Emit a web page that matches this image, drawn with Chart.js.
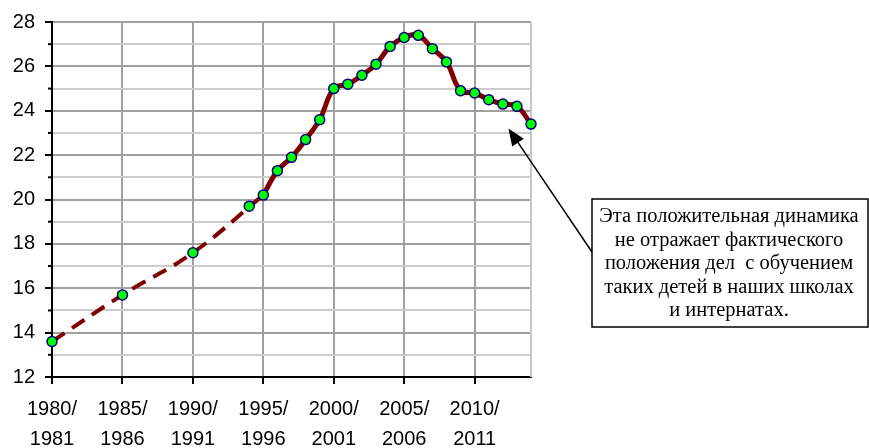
<!DOCTYPE html>
<html>
<head>
<meta charset="utf-8">
<script src="https://cdn.jsdelivr.net/npm/chart.js@4.4.1/dist/chart.umd.min.js"></script>
<style>
  html, body { margin: 0; padding: 0; background: #fff; }
</style>
</head>
<body>
<canvas id="chart" width="869" height="448"></canvas>
<script>
// school years (first year of the pair) and values
const years = [1980, 1985, 1990, 1994, 1995, 1996, 1997, 1998, 1999, 2000, 2001, 2002, 2003, 2004,
               2005, 2006, 2007, 2008, 2009, 2010, 2011, 2012, 2013, 2014];
const values = [13.6, 15.7, 17.6, 19.7, 20.2, 21.3, 21.9, 22.7, 23.6, 25.0, 25.2, 25.6, 26.1, 26.9,
                27.3, 27.4, 26.8, 26.2, 24.9, 24.8, 24.5, 24.3, 24.2, 23.4];
// years joined by the dashed part of the line
const trendYears = [1980, 1985, 1990, 1995];
const xTickYears = [1980, 1985, 1990, 1995, 2000, 2005, 2010];
const xTickLabels = [['1980/', '1981'], ['1985/', '1986'], ['1990/', '1991'], ['1995/', '1996'],
                     ['2000/', '2001'], ['2005/', '2006'], ['2010/', '2011']];
const yTickLabels = ['12', '14', '16', '18', '20', '22', '24', '26', '28'];
const noteLines = ['Эта положительная динамика', 'не отражает фактического',
                   'положения дел  с обучением', 'таких детей в наших школах', 'и интернатах.'];

const pts = years.map((y, i) => ({ x: y, y: values[i] }));
const trendPts = pts.filter(p => trendYears.includes(p.x));
const solidPts = pts.filter(p => p.x >= 1995);

const isMajor = v => yTickLabels.includes(String(v));

const extras = {
  id: 'extras',
  beforeDatasetsDraw(chart) {
    const { ctx, chartArea: a, scales: { y } } = chart;
    ctx.save();
    // right edge of plot
    ctx.strokeStyle = '#c8c8c8';
    ctx.lineWidth = 2;
    ctx.beginPath();
    ctx.moveTo(a.right, a.top);
    ctx.lineTo(a.right, a.bottom);
    ctx.stroke();
    // minor ticks on the y axis
    ctx.strokeStyle = '#000';
    ctx.lineWidth = 2;
    y.ticks.forEach(t => {
      if (isMajor(t.value)) return;
      const py = y.getPixelForValue(t.value);
      ctx.beginPath();
      ctx.moveTo(a.left - 4, py);
      ctx.lineTo(a.left, py);
      ctx.stroke();
    });
    ctx.restore();
  },
  afterDraw(chart) {
    const { ctx, scales: { x, y } } = chart;
    ctx.save();
    // callout box
    const bx = 592, by = 199, bw = 276, bh = 128;
    ctx.fillStyle = '#fff';
    ctx.fillRect(bx, by, bw, bh);
    ctx.strokeStyle = '#000';
    ctx.lineWidth = 1.5;
    ctx.strokeRect(bx, by, bw, bh);
    ctx.fillStyle = '#000';
    ctx.font = '20.5px "Liberation Serif", "Times New Roman", serif';
    ctx.textAlign = 'center';
    ctx.textBaseline = 'middle';
    noteLines.forEach((l, i) => ctx.fillText(l, bx + bw / 2 - 1, by + 18 + i * 23.5));
    // arrow
    const tx = x.getPixelForValue(2012.4), ty = y.getPixelForValue(23.2);
    const sx = bx, sy = 252;
    const ang = Math.atan2(ty - sy, tx - sx);
    ctx.lineWidth = 1.5;
    ctx.beginPath();
    ctx.moveTo(sx, sy);
    ctx.lineTo(tx - 12 * Math.cos(ang), ty - 12 * Math.sin(ang));
    ctx.stroke();
    const len = 17, half = 7;
    ctx.beginPath();
    ctx.moveTo(tx, ty);
    ctx.lineTo(tx - len * Math.cos(ang) + half * Math.sin(ang), ty - len * Math.sin(ang) - half * Math.cos(ang));
    ctx.lineTo(tx - len * Math.cos(ang) - half * Math.sin(ang), ty - len * Math.sin(ang) + half * Math.cos(ang));
    ctx.closePath();
    ctx.fill();
    ctx.restore();
  }
};

const tickFont = { family: '"Liberation Sans", Arial, sans-serif', size: 20 };

new Chart(document.getElementById('chart'), {
  type: 'line',
  data: {
    datasets: [
      {
        data: trendPts,
        borderColor: '#800000',
        borderWidth: 4,
        borderDash: [15, 9],
        tension: 0.4,
        pointRadius: 0,
        clip: false,
        order: 3
      },
      {
        data: solidPts,
        borderColor: '#800000',
        borderWidth: 5,
        tension: 0.4,
        pointRadius: 0,
        clip: false,
        order: 2
      },
      {
        data: pts,
        showLine: false,
        pointRadius: 5,
        pointBorderWidth: 1.5,
        pointBackgroundColor: '#00ff00',
        pointBorderColor: '#000080',
        clip: false,
        order: 1
      }
    ]
  },
  options: {
    responsive: false,
    animation: false,
    layout: { padding: { top: 21, right: 338, left: 0, bottom: 0 } },
    plugins: { legend: { display: false }, tooltip: { enabled: false } },
    scales: {
      x: {
        type: 'linear',
        min: 1980,
        max: 2014,
        bounds: 'data',
        afterFit: s => { s.height = 71; },
        afterBuildTicks: s => { s.ticks = xTickYears.map(v => ({ value: v })); },
        ticks: {
          stepSize: 5,
          includeBounds: false,
          color: '#000',
          font: { ...tickFont, lineHeight: 1.5 },
          padding: 10,
          maxRotation: 0,
          autoSkip: false,
          callback: v => xTickLabels[xTickYears.indexOf(v)]
        },
        grid: { color: '#a0a0a0', lineWidth: 2, tickColor: '#000', tickLength: 7 },
        border: { color: '#000', width: 2 }
      },
      y: {
        min: 12,
        max: 28,
        afterFit: s => { s.width = 52; },
        ticks: {
          stepSize: 1,
          color: '#000',
          font: tickFont,
          padding: 10,
          autoSkip: false,
          callback: v => isMajor(v) ? String(v) : ''
        },
        grid: {
          color: c => isMajor(c.tick.value) ? '#a0a0a0' : '#cccccc',
          lineWidth: 2,
          tickColor: c => isMajor(c.tick.value) ? '#000' : 'rgba(0,0,0,0)',
          tickLength: 7
        },
        border: { color: '#000', width: 2 }
      }
    }
  },
  plugins: [extras]
});
</script>
</body>
</html>
